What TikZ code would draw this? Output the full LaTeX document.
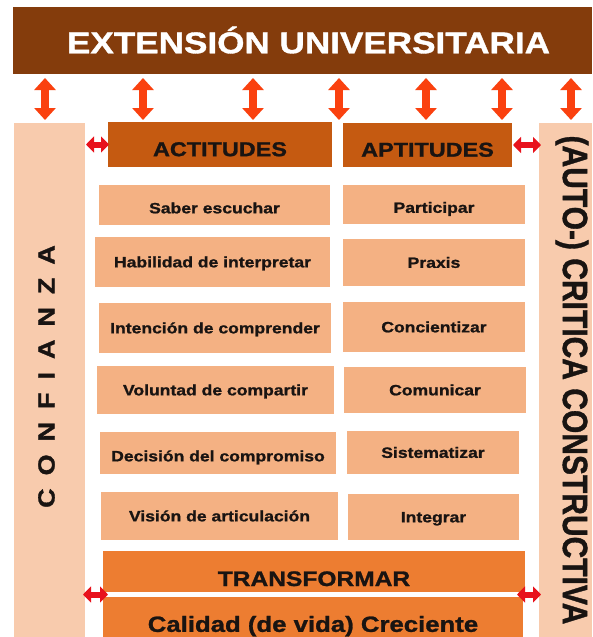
\documentclass[tikz,border=0pt]{standalone}
\usepackage{fontspec}
\setmainfont{Liberation Sans}[BoldFont={Liberation Sans Bold},BoldFeatures={FakeBold=1.2},FakeStretch=1.17]
\newfontfamily\rotfont{Liberation Sans}[BoldFont={Liberation Sans Bold},BoldFeatures={FakeBold=1.2}]
\usetikzlibrary{arrows.meta}
\definecolor{bannerc}{RGB}{132,60,12}
\definecolor{darkbox}{RGB}{197,90,17}
\definecolor{rowbox}{RGB}{244,177,131}
\definecolor{sidebox}{RGB}{248,203,173}
\definecolor{botbox}{RGB}{237,125,49}
\definecolor{arrowor}{RGB}{250,65,15}
\definecolor{arrowred}{RGB}{232,18,28}
\definecolor{ink}{RGB}{25,20,18}
% box from corners: [options]{x1}{y1}{x2}{y2}{name}
\newcommand{\cbox}[6][]{\node[boxbase,minimum width={#4-#2},minimum height={#5-#3},#1] (#6) at ({(#2+#4)/2},{(#3+#5)/2})}
\begin{document}
\begin{tikzpicture}[x=1pt,y=-1pt,
  boxbase/.style={draw=none,inner sep=0pt,outer sep=0pt,text=ink},
  rowlbl/.style={fill=rowbox,font=\bfseries\fontsize{15}{15}\selectfont,text height=10.7pt,text depth=0pt},
  headlbl/.style={fill=darkbox,font=\bfseries\fontsize{20}{20}\selectfont,text height=23.3pt,text depth=0pt},
  botlbl/.style={fill=botbox,text depth=0pt},
  varrow/.style={draw=arrowor,line width=8pt,{Triangle[width=21pt,length=12pt]}-{Triangle[width=21pt,length=12pt]}},
  harrow/.style={draw=arrowred,line width=6pt,{Triangle[width=16pt,length=8pt]}-{Triangle[width=16pt,length=8pt]}}
]
\useasboundingbox[fill=white] (0,0) rectangle (592,637);

% banner
\cbox[fill=bannerc]{13}{7}{592}{74}{banner} {};
\node[inner sep=0pt,text=white,font=\bfseries\fontsize{30}{30}\selectfont,text height=21.5pt,text depth=0pt] (bannertxt) at (308.5,42.5) {EXTENSIÓN UNIVERSITARIA};

% side columns
\cbox[fill=sidebox]{14}{123}{85}{637}{leftcol} {};
\cbox[fill=sidebox]{539}{123}{592}{637}{rightcol} {};
\node[inner sep=0pt,rotate=90,text=ink,font=\rotfont\bfseries\fontsize{20}{20}\selectfont] (conf) at (46.5,376.5)
  {\scalebox{1.35}[1.17]{C\hspace{9.6pt}O\hspace{9.6pt}N\hspace{9.6pt}F\hspace{9.6pt}I\hspace{9.6pt}A\hspace{9.6pt}N\hspace{9.6pt}Z\hspace{9.6pt}A}};
\node[inner sep=0pt,rotate=-90,text=ink,font=\rotfont\bfseries\fontsize{30}{30}\selectfont,text height=25.1pt,text depth=0pt] (crit) at (575.5,380)
  {\scalebox{1}[1.17]{(AUTO-) CRITICA CONSTRUCTIVA}};

% headers
\cbox[headlbl]{108}{122}{332}{167}{act} {ACTITUDES};
\cbox[headlbl]{343}{123}{512}{167}{apt} {APTITUDES};

% rows
\cbox[rowlbl,text height=16.7pt]{99}{185}{330}{225}{l1} {Saber escuchar};
\cbox[rowlbl,text height=16.7pt]{343}{185}{525}{224}{r1} {Participar};
\cbox[rowlbl]{95}{237}{330}{287}{l2} {Habilidad de interpretar};
\cbox[rowlbl]{343}{239}{525}{286}{r2} {Praxis};
\cbox[rowlbl]{99}{303}{331}{353}{l3} {Intención de comprender};
\cbox[rowlbl]{343}{302}{525}{352}{r3} {Concientizar};
\cbox[rowlbl]{97}{366}{334}{414}{l4} {Voluntad de compartir};
\cbox[rowlbl]{344}{367}{526}{413}{r4} {Comunicar};
\cbox[rowlbl,text height=16.7pt]{100}{432}{336}{474}{l5} {Decisión del compromiso};
\cbox[rowlbl]{347}{431}{519}{474}{r5} {Sistematizar};
\cbox[rowlbl]{101}{492}{338}{540}{l6} {Visión de articulación};
\cbox[rowlbl]{348}{494}{519}{540}{r6} {Integrar};

% bottom boxes
\cbox[botlbl,font=\bfseries\fontsize{21}{21}\selectfont,text height=29pt]{103}{551}{525}{592}{trans} {TRANSFORMAR};
\cbox[botlbl,font=\bfseries\fontsize{22}{22}\selectfont,text height=29.7pt]{103}{597}{523}{637}{cal} {Calidad (de vida) Creciente};

% vertical arrows
\foreach \i/\x in {1/45,2/143,3/253,4/339,5/426,6/502,7/571}{
  \coordinate (vt\i) at (\x,78);
  \coordinate (vb\i) at (\x,120);
  \draw[varrow] (vt\i) -- (vb\i);
}

% horizontal arrows
\coordinate (tsep) at (314,594.5);
\draw[harrow,shorten <=1pt,shorten >=-1pt] (leftcol.east |- act.west) -- (act.west);
\draw[harrow,shorten <=1pt,shorten >=-2pt] (apt.east) -- (rightcol.west |- apt.east);
\draw[harrow,shorten <=-2pt,shorten >=-5pt] (leftcol.east |- tsep) -- (trans.west |- tsep);
\draw[harrow,shorten <=-8pt,shorten >=-2pt] (trans.east |- tsep) -- (rightcol.west |- tsep);
\end{tikzpicture}
\end{document}
